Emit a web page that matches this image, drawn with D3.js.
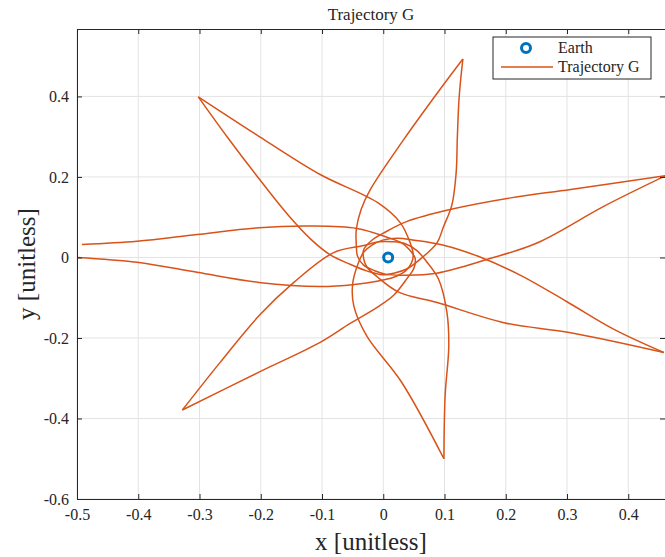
<!DOCTYPE html>
<html>
<head>
<meta charset="utf-8">
<script src="https://cdn.jsdelivr.net/npm/d3@7"></script>
<style>
	body { margin: 0; background: #fff; }
	svg text { font-family: 'Liberation Serif', 'DejaVu Serif', serif; fill: #262626; }
</style>
</head>
<body>
<div id="chart"></div>
<script>
const width = 665;
const height = 557;

// Axis ticks
const xTicks = [-0.5, -0.4, -0.3, -0.2, -0.1, 0, 0.1, 0.2, 0.3, 0.4];
const yTicks = [-0.6, -0.4, -0.2, 0, 0.2, 0.4];

// Earth position [x, y]
const earth = [0.008, 0];

// Trajectory, one arc per apogee-to-apogee pass
const lobe1 = [[-0.500, 0.000], [-0.402, -0.012], [-0.304, -0.037], [-0.203, -0.062], [-0.103, -0.072], [-0.047, -0.067], [-0.010, -0.059], [0.017, -0.049], [0.036, -0.034], [0.046, -0.014], [0.049, 0.007], [0.044, 0.036], [0.028, 0.086], [-0.009, 0.136], [-0.103, 0.206], [-0.203, 0.301], [-0.302, 0.399]];
const lobe2 = [[-0.302, 0.399], [-0.255, 0.300], [-0.205, 0.200], [-0.155, 0.105], [-0.118, 0.045], [-0.087, 0.007], [-0.054, -0.017], [-0.026, -0.034], [-0.001, -0.043], [0.020, -0.038], [0.039, -0.028], [0.059, -0.006], [0.088, 0.037], [0.098, 0.075], [0.112, 0.130], [0.119, 0.210], [0.121, 0.300], [0.124, 0.400], [0.130, 0.493]];
const lobe3 = [[0.130, 0.493], [0.088, 0.408], [0.033, 0.292], [-0.021, 0.169], [-0.036, 0.120], [-0.044, 0.070], [-0.044, 0.031], [-0.042, 0.003], [-0.032, -0.019], [-0.014, -0.033], [0.005, -0.042], [0.034, -0.044], [0.087, -0.039], [0.169, -0.005], [0.251, 0.036], [0.360, 0.127], [0.461, 0.203]];
const lobe4 = [[0.461, 0.203], [0.306, 0.169], [0.208, 0.148], [0.109, 0.119], [0.038, 0.089], [0.001, 0.061], [-0.020, 0.041], [-0.032, 0.019], [-0.032, -0.003], [-0.027, -0.023], [-0.010, -0.048], [0.025, -0.086], [0.088, -0.112], [0.197, -0.162], [0.306, -0.187], [0.458, -0.236]];
const lobe5 = [[0.458, -0.236], [0.376, -0.178], [0.300, -0.110], [0.225, -0.045], [0.160, 0.000], [0.097, 0.031], [0.051, 0.043], [0.023, 0.048], [-0.001, 0.043], [-0.019, 0.030], [-0.032, 0.013], [-0.041, -0.015], [-0.050, -0.066], [-0.048, -0.121], [-0.027, -0.195], [0.030, -0.310], [0.099, -0.500]];
const lobe6 = [[0.099, -0.500], [0.101, -0.344], [0.107, -0.220], [0.104, -0.137], [0.090, -0.053], [0.069, -0.007], [0.055, 0.017], [0.036, 0.034], [0.015, 0.039], [-0.006, 0.039], [-0.034, 0.029], [-0.081, 0.012], [-0.146, -0.062], [-0.203, -0.145], [-0.266, -0.260], [-0.328, -0.379]];
const lobe7 = [[-0.328, -0.379], [-0.203, -0.285], [-0.103, -0.211], [-0.054, -0.164], [-0.010, -0.124], [0.017, -0.094], [0.039, -0.052], [0.050, -0.027], [0.052, -0.002], [0.043, 0.019], [0.030, 0.036], [0.005, 0.051], [-0.043, 0.072], [-0.119, 0.078], [-0.203, 0.074], [-0.304, 0.057], [-0.402, 0.040], [-0.492, 0.032]];
const lobes = [lobe1, lobe2, lobe3, lobe4, lobe5, lobe6, lobe7];

const trajColor = '#D95319';
const earthColor = '#0072BD';
const serif = "'Liberation Serif', 'DejaVu Serif', serif";

const margin = { top: 29, right: 0, bottom: 58, left: 77 };
const innerW = width - margin.left - margin.right;
const innerH = height - margin.top - margin.bottom;

const svg = d3.select('#chart').append('svg').attr('width', width).attr('height', height);

const x = d3.scaleLinear().domain([-0.5, 0.46]).range([margin.left, margin.left + innerW]);
const y = d3.scaleLinear().domain([-0.6, 0.5675]).range([margin.top + innerH, margin.top]);

// Grid =================================================================
const grid = svg.append('g').attr('stroke', '#e3e3e3').attr('stroke-width', 1);
grid.selectAll('.gx')
	.data(xTicks)
	.join('line')
	.attr('x1', (d) => x(d)).attr('x2', (d) => x(d))
	.attr('y1', margin.top).attr('y2', margin.top + innerH);
grid.selectAll('.gy')
	.data(yTicks)
	.join('line')
	.attr('x1', margin.left).attr('x2', margin.left + innerW)
	.attr('y1', (d) => y(d)).attr('y2', (d) => y(d));

// Trajectory ================================================================
svg.append('clipPath').attr('id', 'clip')
	.append('rect')
	.attr('x', margin.left).attr('y', margin.top)
	.attr('width', innerW).attr('height', innerH);

const line = d3.line()
	.x((d) => x(d[0]))
	.y((d) => y(d[1]))
	.curve(d3.curveCatmullRom.alpha(0.5));

svg.append('g')
	.attr('clip-path', 'url(#clip)')
	.selectAll('path')
	.data(lobes)
	.join('path')
	.attr('d', line)
	.attr('fill', 'none')
	.attr('stroke', trajColor)
	.attr('stroke-width', 1.5)
	.attr('stroke-linejoin', 'round');

svg.append('circle')
	.attr('cx', x(earth[0]))
	.attr('cy', y(earth[1]))
	.attr('r', 4.5)
	.attr('fill', 'none')
	.attr('stroke', earthColor)
	.attr('stroke-width', 3);

// Axes ================================================================
const axisColor = '#262626';
const fmt = (d) => String(d);

const xAxis = svg.append('g')
	.attr('transform', `translate(0,${margin.top + innerH})`)
	.call(d3.axisBottom(x).tickValues(xTicks).tickSize(-5).tickPadding(10).tickFormat(fmt));
const yAxis = svg.append('g')
	.attr('transform', `translate(${margin.left},0)`)
	.call(d3.axisLeft(y).tickValues(yTicks).tickSize(-5).tickPadding(8).tickFormat(fmt));
const xTop = svg.append('g')
	.attr('transform', `translate(0,${margin.top})`)
	.call(d3.axisTop(x).tickValues(xTicks).tickSize(-5).tickFormat(''));
const yRight = svg.append('g')
	.attr('transform', `translate(${margin.left + innerW},0)`)
	.call(d3.axisRight(y).tickValues(yTicks).tickSize(-5).tickFormat(''));

[xAxis, yAxis, xTop, yRight].forEach((g) => {
	g.attr('font-family', serif).attr('font-size', 16);
	g.select('.domain').attr('stroke', axisColor).attr('stroke-width', 1);
	g.selectAll('.tick line').attr('stroke', axisColor);
	g.selectAll('.tick text')
		.attr('font-family', serif)
		.attr('font-size', 16)
		.attr('fill', axisColor);
});

// Labels ================================================================
svg.append('text')
	.attr('x', margin.left + innerW / 2)
	.attr('y', 20)
	.attr('text-anchor', 'middle')
	.attr('font-family', serif)
	.attr('font-size', 17)
	.text('Trajectory G');

svg.append('text')
	.attr('x', margin.left + innerW / 2)
	.attr('y', 550)
	.attr('text-anchor', 'middle')
	.attr('font-family', serif)
	.attr('font-size', 25)
	.text('x [unitless]');

svg.append('text')
	.attr('transform', `translate(35,${margin.top + innerH / 2}) rotate(-90)`)
	.attr('text-anchor', 'middle')
	.attr('font-family', serif)
	.attr('font-size', 25)
	.text('y [unitless]');

// Legend ================================================================
const legend = svg.append('g').attr('transform', 'translate(493,37)');
legend.append('rect')
	.attr('width', 158).attr('height', 42)
	.attr('fill', '#fff')
	.attr('stroke', axisColor)
	.attr('stroke-width', 1);
legend.append('circle')
	.attr('cx', 33).attr('cy', 11)
	.attr('r', 4.5)
	.attr('fill', 'none')
	.attr('stroke', earthColor)
	.attr('stroke-width', 3);
legend.append('line')
	.attr('x1', 8).attr('x2', 60)
	.attr('y1', 30).attr('y2', 30)
	.attr('stroke', trajColor)
	.attr('stroke-width', 1.5);
legend.append('text').attr('x', 65).attr('y', 16).attr('font-family', serif).attr('font-size', 16).text('Earth');
legend.append('text').attr('x', 65).attr('y', 35).attr('font-family', serif).attr('font-size', 16).text('Trajectory G');
</script>
</body>
</html>
